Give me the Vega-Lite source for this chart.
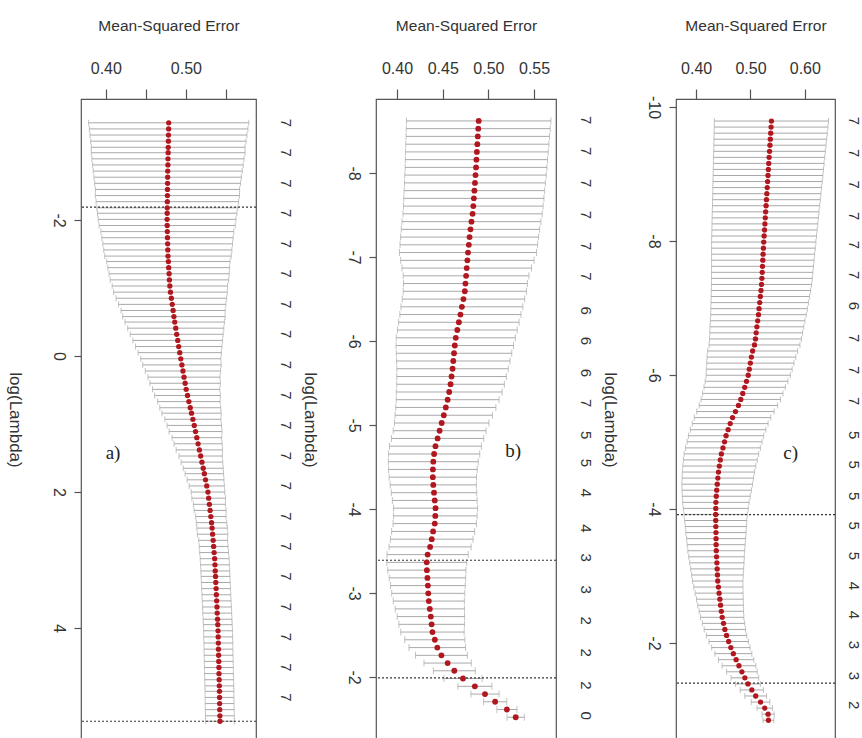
{
"$schema": "https://vega.github.io/schema/vega-lite/v6.json",
"background": "white",
"padding": {"left": 5, "top": 17, "right": 0, "bottom": 0},
"spacing": 120,
"bounds": "flush",
"config": {
  "font": "Liberation Sans",
  "view": {"stroke": "#555555", "strokeWidth": 1.2},
  "axis": {"domain": false, "grid": false, "tickColor": "#555555", "tickWidth": 1.2, "labelColor": "#333333", "titleColor": "#333333", "titleFontWeight": "normal", "labelFontSize": 16, "titleFontSize": 15.5, "labelFont": "Liberation Sans", "titleFont": "Liberation Sans", "labelFlush": false, "labelOverlap": false}
},
"datasets": {
  "a": [
{"lambda":-3.43,"mse":0.4785,"sd":0.100},{"lambda":-3.34,"mse":0.4784,"sd":0.099},{"lambda":-3.25,"mse":0.4782,"sd":0.098},{"lambda":-3.16,"mse":0.4781,"sd":0.097},{"lambda":-3.07,"mse":0.4779,"sd":0.096},{"lambda":-2.99,"mse":0.4778,"sd":0.096},{"lambda":-2.90,"mse":0.4776,"sd":0.095},{"lambda":-2.81,"mse":0.4775,"sd":0.094},{"lambda":-2.72,"mse":0.4773,"sd":0.093},{"lambda":-2.63,"mse":0.4772,"sd":0.092},
{"lambda":-2.54,"mse":0.4771,"sd":0.091},{"lambda":-2.45,"mse":0.4770,"sd":0.090},{"lambda":-2.36,"mse":0.4769,"sd":0.090},{"lambda":-2.27,"mse":0.4768,"sd":0.089},{"lambda":-2.18,"mse":0.4767,"sd":0.088},{"lambda":-2.10,"mse":0.4766,"sd":0.087},{"lambda":-2.01,"mse":0.4765,"sd":0.086},{"lambda":-1.92,"mse":0.4766,"sd":0.085},{"lambda":-1.83,"mse":0.4768,"sd":0.083},{"lambda":-1.74,"mse":0.4770,"sd":0.082},
{"lambda":-1.65,"mse":0.4772,"sd":0.081},{"lambda":-1.56,"mse":0.4774,"sd":0.080},{"lambda":-1.47,"mse":0.4776,"sd":0.079},{"lambda":-1.39,"mse":0.4781,"sd":0.077},{"lambda":-1.30,"mse":0.4785,"sd":0.076},{"lambda":-1.21,"mse":0.4790,"sd":0.075},{"lambda":-1.12,"mse":0.4794,"sd":0.074},{"lambda":-1.03,"mse":0.4799,"sd":0.072},{"lambda":-0.94,"mse":0.4807,"sd":0.071},{"lambda":-0.85,"mse":0.4818,"sd":0.069},
{"lambda":-0.76,"mse":0.4829,"sd":0.067},{"lambda":-0.67,"mse":0.4840,"sd":0.065},{"lambda":-0.58,"mse":0.4850,"sd":0.064},{"lambda":-0.50,"mse":0.4860,"sd":0.062},{"lambda":-0.41,"mse":0.4873,"sd":0.060},{"lambda":-0.32,"mse":0.4885,"sd":0.058},{"lambda":-0.23,"mse":0.4898,"sd":0.056},{"lambda":-0.14,"mse":0.4910,"sd":0.054},{"lambda":-0.05,"mse":0.4923,"sd":0.052},{"lambda":0.04,"mse":0.4936,"sd":0.050},
{"lambda":0.13,"mse":0.4950,"sd":0.049},{"lambda":0.22,"mse":0.4963,"sd":0.047},{"lambda":0.31,"mse":0.4976,"sd":0.045},{"lambda":0.40,"mse":0.4990,"sd":0.044},{"lambda":0.49,"mse":0.5003,"sd":0.042},{"lambda":0.58,"mse":0.5020,"sd":0.041},{"lambda":0.67,"mse":0.5037,"sd":0.039},{"lambda":0.76,"mse":0.5054,"sd":0.038},{"lambda":0.84,"mse":0.5070,"sd":0.037},{"lambda":0.93,"mse":0.5087,"sd":0.035},
{"lambda":1.02,"mse":0.5104,"sd":0.034},{"lambda":1.11,"mse":0.5120,"sd":0.033},{"lambda":1.20,"mse":0.5136,"sd":0.031},{"lambda":1.29,"mse":0.5152,"sd":0.030},{"lambda":1.38,"mse":0.5168,"sd":0.029},{"lambda":1.47,"mse":0.5184,"sd":0.027},{"lambda":1.56,"mse":0.5200,"sd":0.026},{"lambda":1.65,"mse":0.5216,"sd":0.025},{"lambda":1.73,"mse":0.5230,"sd":0.024},{"lambda":1.82,"mse":0.5245,"sd":0.023},
{"lambda":1.91,"mse":0.5260,"sd":0.022},{"lambda":2.00,"mse":0.5275,"sd":0.021},{"lambda":2.09,"mse":0.5284,"sd":0.021},{"lambda":2.18,"mse":0.5293,"sd":0.020},{"lambda":2.27,"mse":0.5302,"sd":0.020},{"lambda":2.36,"mse":0.5311,"sd":0.019},{"lambda":2.45,"mse":0.5320,"sd":0.019},{"lambda":2.53,"mse":0.5327,"sd":0.019},{"lambda":2.62,"mse":0.5333,"sd":0.019},{"lambda":2.71,"mse":0.5340,"sd":0.018},
{"lambda":2.80,"mse":0.5346,"sd":0.018},{"lambda":2.89,"mse":0.5352,"sd":0.018},{"lambda":2.98,"mse":0.5359,"sd":0.018},{"lambda":3.07,"mse":0.5363,"sd":0.018},{"lambda":3.16,"mse":0.5366,"sd":0.018},{"lambda":3.24,"mse":0.5370,"sd":0.018},{"lambda":3.33,"mse":0.5373,"sd":0.018},{"lambda":3.42,"mse":0.5377,"sd":0.018},{"lambda":3.51,"mse":0.5380,"sd":0.018},{"lambda":3.60,"mse":0.5384,"sd":0.018},
{"lambda":3.69,"mse":0.5388,"sd":0.018},{"lambda":3.78,"mse":0.5391,"sd":0.018},{"lambda":3.87,"mse":0.5395,"sd":0.018},{"lambda":3.95,"mse":0.5398,"sd":0.018},{"lambda":4.04,"mse":0.5401,"sd":0.018},{"lambda":4.13,"mse":0.5403,"sd":0.018},{"lambda":4.22,"mse":0.5405,"sd":0.018},{"lambda":4.31,"mse":0.5406,"sd":0.018},{"lambda":4.40,"mse":0.5408,"sd":0.018},{"lambda":4.49,"mse":0.5410,"sd":0.018},
{"lambda":4.58,"mse":0.5412,"sd":0.018},{"lambda":4.67,"mse":0.5413,"sd":0.018},{"lambda":4.76,"mse":0.5415,"sd":0.018},{"lambda":4.85,"mse":0.5417,"sd":0.018},{"lambda":4.93,"mse":0.5419,"sd":0.018},{"lambda":5.02,"mse":0.5420,"sd":0.018},{"lambda":5.11,"mse":0.5421,"sd":0.018},{"lambda":5.20,"mse":0.5422,"sd":0.018},{"lambda":5.29,"mse":0.5424,"sd":0.018},{"lambda":5.37,"mse":0.5425,"sd":0.018}
  ],
  "b": [
{"lambda":-8.620,"mse":0.4894,"sd":0.0790},{"lambda":-8.528,"mse":0.4889,"sd":0.0788},{"lambda":-8.436,"mse":0.4884,"sd":0.0785},{"lambda":-8.343,"mse":0.4879,"sd":0.0783},{"lambda":-8.251,"mse":0.4874,"sd":0.0781},{"lambda":-8.159,"mse":0.4869,"sd":0.0778},{"lambda":-8.067,"mse":0.4865,"sd":0.0776},{"lambda":-7.975,"mse":0.4859,"sd":0.0774},{"lambda":-7.882,"mse":0.4853,"sd":0.0771},{"lambda":-7.790,"mse":0.4847,"sd":0.0769},
{"lambda":-7.698,"mse":0.4841,"sd":0.0767},{"lambda":-7.606,"mse":0.4835,"sd":0.0764},{"lambda":-7.514,"mse":0.4827,"sd":0.0762},{"lambda":-7.421,"mse":0.4815,"sd":0.0760},{"lambda":-7.329,"mse":0.4804,"sd":0.0757},{"lambda":-7.237,"mse":0.4794,"sd":0.0755},{"lambda":-7.145,"mse":0.4786,"sd":0.0753},{"lambda":-7.053,"mse":0.4777,"sd":0.0750},{"lambda":-6.960,"mse":0.4770,"sd":0.0730},{"lambda":-6.868,"mse":0.4763,"sd":0.0709},
{"lambda":-6.776,"mse":0.4756,"sd":0.0688},{"lambda":-6.684,"mse":0.4749,"sd":0.0678},{"lambda":-6.592,"mse":0.4742,"sd":0.0674},{"lambda":-6.499,"mse":0.4727,"sd":0.0670},{"lambda":-6.407,"mse":0.4710,"sd":0.0667},{"lambda":-6.315,"mse":0.4694,"sd":0.0663},{"lambda":-6.223,"mse":0.4677,"sd":0.0659},{"lambda":-6.131,"mse":0.4660,"sd":0.0655},{"lambda":-6.038,"mse":0.4643,"sd":0.0652},{"lambda":-5.946,"mse":0.4632,"sd":0.0643},
{"lambda":-5.854,"mse":0.4624,"sd":0.0632},{"lambda":-5.762,"mse":0.4616,"sd":0.0621},{"lambda":-5.670,"mse":0.4608,"sd":0.0610},{"lambda":-5.577,"mse":0.4597,"sd":0.0600},{"lambda":-5.485,"mse":0.4586,"sd":0.0589},{"lambda":-5.393,"mse":0.4571,"sd":0.0579},{"lambda":-5.301,"mse":0.4554,"sd":0.0563},{"lambda":-5.209,"mse":0.4534,"sd":0.0548},{"lambda":-5.116,"mse":0.4512,"sd":0.0533},{"lambda":-5.024,"mse":0.4489,"sd":0.0517},
{"lambda":-4.932,"mse":0.4466,"sd":0.0508},{"lambda":-4.840,"mse":0.4444,"sd":0.0505},{"lambda":-4.748,"mse":0.4421,"sd":0.0503},{"lambda":-4.655,"mse":0.4406,"sd":0.0499},{"lambda":-4.563,"mse":0.4397,"sd":0.0492},{"lambda":-4.471,"mse":0.4393,"sd":0.0485},{"lambda":-4.379,"mse":0.4392,"sd":0.0478},{"lambda":-4.287,"mse":0.4397,"sd":0.0471},{"lambda":-4.194,"mse":0.4405,"sd":0.0467},{"lambda":-4.102,"mse":0.4413,"sd":0.0464},
{"lambda":-4.010,"mse":0.4422,"sd":0.0460},{"lambda":-3.918,"mse":0.4419,"sd":0.0458},{"lambda":-3.826,"mse":0.4413,"sd":0.0456},{"lambda":-3.733,"mse":0.4395,"sd":0.0454},{"lambda":-3.641,"mse":0.4380,"sd":0.0452},{"lambda":-3.549,"mse":0.4362,"sd":0.0449},{"lambda":-3.457,"mse":0.4335,"sd":0.0444},{"lambda":-3.365,"mse":0.4325,"sd":0.0437},{"lambda":-3.272,"mse":0.4327,"sd":0.0428},{"lambda":-3.180,"mse":0.4333,"sd":0.0418},
{"lambda":-3.088,"mse":0.4338,"sd":0.0409},{"lambda":-2.996,"mse":0.4342,"sd":0.0400},{"lambda":-2.904,"mse":0.4348,"sd":0.0389},{"lambda":-2.811,"mse":0.4359,"sd":0.0379},{"lambda":-2.719,"mse":0.4370,"sd":0.0369},{"lambda":-2.627,"mse":0.4379,"sd":0.0359},{"lambda":-2.535,"mse":0.4388,"sd":0.0347},{"lambda":-2.443,"mse":0.4414,"sd":0.0329},{"lambda":-2.350,"mse":0.4441,"sd":0.0310},{"lambda":-2.258,"mse":0.4486,"sd":0.0284},
{"lambda":-2.166,"mse":0.4554,"sd":0.0259},{"lambda":-2.074,"mse":0.4627,"sd":0.0229},{"lambda":-1.982,"mse":0.4722,"sd":0.0208},{"lambda":-1.889,"mse":0.4852,"sd":0.0186},{"lambda":-1.797,"mse":0.4963,"sd":0.0154},{"lambda":-1.705,"mse":0.5074,"sd":0.0127},{"lambda":-1.613,"mse":0.5203,"sd":0.0110},{"lambda":-1.521,"mse":0.5299,"sd":0.0095}
  ],
  "c": [
{"lambda":-9.790,"mse":0.5386,"sd":0.1050},{"lambda":-9.700,"mse":0.5379,"sd":0.1045},{"lambda":-9.609,"mse":0.5372,"sd":0.1041},{"lambda":-9.519,"mse":0.5365,"sd":0.1036},{"lambda":-9.429,"mse":0.5358,"sd":0.1032},{"lambda":-9.338,"mse":0.5351,"sd":0.1027},{"lambda":-9.248,"mse":0.5343,"sd":0.1023},{"lambda":-9.158,"mse":0.5336,"sd":0.1018},{"lambda":-9.068,"mse":0.5329,"sd":0.1014},{"lambda":-8.977,"mse":0.5322,"sd":0.1009},
{"lambda":-8.887,"mse":0.5315,"sd":0.1005},{"lambda":-8.797,"mse":0.5308,"sd":0.1000},{"lambda":-8.706,"mse":0.5301,"sd":0.0995},{"lambda":-8.616,"mse":0.5294,"sd":0.0991},{"lambda":-8.526,"mse":0.5287,"sd":0.0986},{"lambda":-8.435,"mse":0.5279,"sd":0.0982},{"lambda":-8.345,"mse":0.5272,"sd":0.0977},{"lambda":-8.255,"mse":0.5265,"sd":0.0973},{"lambda":-8.164,"mse":0.5258,"sd":0.0968},{"lambda":-8.074,"mse":0.5251,"sd":0.0964},
{"lambda":-7.984,"mse":0.5244,"sd":0.0959},{"lambda":-7.893,"mse":0.5238,"sd":0.0954},{"lambda":-7.803,"mse":0.5232,"sd":0.0948},{"lambda":-7.713,"mse":0.5227,"sd":0.0943},{"lambda":-7.622,"mse":0.5221,"sd":0.0937},{"lambda":-7.532,"mse":0.5216,"sd":0.0932},{"lambda":-7.442,"mse":0.5210,"sd":0.0927},{"lambda":-7.351,"mse":0.5204,"sd":0.0921},{"lambda":-7.261,"mse":0.5194,"sd":0.0913},{"lambda":-7.171,"mse":0.5182,"sd":0.0905},
{"lambda":-7.080,"mse":0.5170,"sd":0.0896},{"lambda":-6.990,"mse":0.5158,"sd":0.0888},{"lambda":-6.900,"mse":0.5147,"sd":0.0879},{"lambda":-6.809,"mse":0.5133,"sd":0.0870},{"lambda":-6.719,"mse":0.5118,"sd":0.0862},{"lambda":-6.629,"mse":0.5105,"sd":0.0853},{"lambda":-6.538,"mse":0.5092,"sd":0.0845},{"lambda":-6.448,"mse":0.5074,"sd":0.0836},{"lambda":-6.358,"mse":0.5040,"sd":0.0827},{"lambda":-6.267,"mse":0.5017,"sd":0.0816},
{"lambda":-6.177,"mse":0.4998,"sd":0.0802},{"lambda":-6.087,"mse":0.4978,"sd":0.0789},{"lambda":-5.996,"mse":0.4959,"sd":0.0775},{"lambda":-5.906,"mse":0.4927,"sd":0.0761},{"lambda":-5.816,"mse":0.4894,"sd":0.0749},{"lambda":-5.725,"mse":0.4858,"sd":0.0740},{"lambda":-5.635,"mse":0.4822,"sd":0.0731},{"lambda":-5.545,"mse":0.4779,"sd":0.0722},{"lambda":-5.454,"mse":0.4724,"sd":0.0712},{"lambda":-5.364,"mse":0.4670,"sd":0.0703},
{"lambda":-5.274,"mse":0.4627,"sd":0.0697},{"lambda":-5.183,"mse":0.4589,"sd":0.0695},{"lambda":-5.093,"mse":0.4551,"sd":0.0692},{"lambda":-5.003,"mse":0.4523,"sd":0.0690},{"lambda":-4.912,"mse":0.4494,"sd":0.0688},{"lambda":-4.822,"mse":0.4465,"sd":0.0686},{"lambda":-4.732,"mse":0.4445,"sd":0.0679},{"lambda":-4.641,"mse":0.4427,"sd":0.0671},{"lambda":-4.551,"mse":0.4411,"sd":0.0664},{"lambda":-4.461,"mse":0.4400,"sd":0.0657},
{"lambda":-4.370,"mse":0.4389,"sd":0.0650},{"lambda":-4.280,"mse":0.4379,"sd":0.0638},{"lambda":-4.190,"mse":0.4371,"sd":0.0624},{"lambda":-4.099,"mse":0.4364,"sd":0.0611},{"lambda":-4.009,"mse":0.4362,"sd":0.0597},{"lambda":-3.919,"mse":0.4360,"sd":0.0583},{"lambda":-3.828,"mse":0.4361,"sd":0.0572},{"lambda":-3.738,"mse":0.4363,"sd":0.0562},{"lambda":-3.648,"mse":0.4365,"sd":0.0553},{"lambda":-3.557,"mse":0.4367,"sd":0.0543},
{"lambda":-3.467,"mse":0.4368,"sd":0.0533},{"lambda":-3.377,"mse":0.4371,"sd":0.0523},{"lambda":-3.286,"mse":0.4376,"sd":0.0511},{"lambda":-3.196,"mse":0.4382,"sd":0.0499},{"lambda":-3.106,"mse":0.4387,"sd":0.0487},{"lambda":-3.015,"mse":0.4393,"sd":0.0475},{"lambda":-2.925,"mse":0.4398,"sd":0.0463},{"lambda":-2.835,"mse":0.4410,"sd":0.0452},{"lambda":-2.744,"mse":0.4423,"sd":0.0441},{"lambda":-2.654,"mse":0.4437,"sd":0.0430},
{"lambda":-2.564,"mse":0.4450,"sd":0.0420},{"lambda":-2.473,"mse":0.4464,"sd":0.0409},{"lambda":-2.383,"mse":0.4480,"sd":0.0398},{"lambda":-2.293,"mse":0.4504,"sd":0.0389},{"lambda":-2.202,"mse":0.4529,"sd":0.0380},{"lambda":-2.112,"mse":0.4560,"sd":0.0371},{"lambda":-2.022,"mse":0.4599,"sd":0.0362},{"lambda":-1.931,"mse":0.4639,"sd":0.0353},{"lambda":-1.841,"mse":0.4685,"sd":0.0340},{"lambda":-1.751,"mse":0.4736,"sd":0.0325},
{"lambda":-1.660,"mse":0.4788,"sd":0.0310},{"lambda":-1.570,"mse":0.4842,"sd":0.0282},{"lambda":-1.480,"mse":0.4897,"sd":0.0255},{"lambda":-1.389,"mse":0.4954,"sd":0.0228},{"lambda":-1.299,"mse":0.5025,"sd":0.0214},{"lambda":-1.209,"mse":0.5096,"sd":0.0200},{"lambda":-1.118,"mse":0.5185,"sd":0.0171},{"lambda":-1.028,"mse":0.5262,"sd":0.0142},{"lambda":-0.938,"mse":0.5324,"sd":0.0113},{"lambda":-0.847,"mse":0.5330,"sd":0.0100}
  ],
  "a_df": [
{"lambda":-3.43,"df":"7"},{"lambda":-2.99,"df":"7"},{"lambda":-2.54,"df":"7"},{"lambda":-2.10,"df":"7"},{"lambda":-1.65,"df":"7"},{"lambda":-1.21,"df":"7"},{"lambda":-0.76,"df":"7"},{"lambda":-0.32,"df":"7"},{"lambda":0.13,"df":"7"},{"lambda":0.58,"df":"7"},
{"lambda":1.02,"df":"7"},{"lambda":1.47,"df":"7"},{"lambda":1.91,"df":"7"},{"lambda":2.36,"df":"7"},{"lambda":2.80,"df":"7"},{"lambda":3.24,"df":"7"},{"lambda":3.69,"df":"7"},{"lambda":4.13,"df":"7"},{"lambda":4.58,"df":"7"},{"lambda":5.02,"df":"7"}
  ],
  "b_df": [
{"lambda":-8.63,"df":"7"},{"lambda":-8.26,"df":"7"},{"lambda":-7.88,"df":"7"},{"lambda":-7.50,"df":"7"},{"lambda":-7.13,"df":"7"},{"lambda":-6.77,"df":"7"},{"lambda":-6.36,"df":"6"},{"lambda":-6.00,"df":"6"},{"lambda":-5.62,"df":"6"},{"lambda":-5.26,"df":"7"},
{"lambda":-4.88,"df":"5"},{"lambda":-4.55,"df":"5"},{"lambda":-4.19,"df":"4"},{"lambda":-3.77,"df":"4"},{"lambda":-3.42,"df":"3"},{"lambda":-3.04,"df":"3"},{"lambda":-2.67,"df":"2"},{"lambda":-2.29,"df":"2"},{"lambda":-1.90,"df":"2"},{"lambda":-1.54,"df":"0"}
  ],
  "c_df": [
{"lambda":-9.79,"df":"7"},{"lambda":-9.31,"df":"7"},{"lambda":-8.84,"df":"7"},{"lambda":-8.37,"df":"7"},{"lambda":-7.94,"df":"7"},{"lambda":-7.49,"df":"7"},{"lambda":-7.03,"df":"6"},{"lambda":-6.55,"df":"7"},{"lambda":-6.07,"df":"7"},{"lambda":-5.61,"df":"7"},
{"lambda":-5.10,"df":"5"},{"lambda":-4.66,"df":"5"},{"lambda":-4.19,"df":"5"},{"lambda":-3.75,"df":"5"},{"lambda":-3.30,"df":"5"},{"lambda":-2.85,"df":"4"},{"lambda":-2.42,"df":"4"},{"lambda":-1.97,"df":"3"},{"lambda":-1.51,"df":"3"},{"lambda":-1.07,"df":"2"}
  ],
  "a_cut": [{"lambda":-2.19},{"lambda":5.37}],
  "b_cut": [{"lambda":-3.39},{"lambda":-1.99}],
  "c_cut": [{"lambda":-3.915},{"lambda":-1.40}],
  "a_tag": [{"tag":"a)"}],
  "b_tag": [{"tag":"b)"}],
  "c_tag": [{"tag":"c)"}]
},
"hconcat": [
 {
  "width": 175, "height": 641,
  "layer": [
   {"data": {"name": "a"},
    "mark": {"type": "errorbar", "ticks": {"size": 6}, "color": "#A9A9A9", "thickness": 1},
    "encoding": {
     "y": {"field": "lambda", "type": "quantitative", "scale": {"domain": [-3.78, 5.646], "reverse": true, "nice": false, "zero": false},
           "axis": {"orient": "left", "title": "log(Lambda)", "values": [-2, 0, 2, 4], "labelExpr": "'' + datum.value", "labelAngle": 90, "titleAngle": 90, "tickSize": 7, "labelPadding": 8, "titlePadding": 45, "labelFontSize": 16, "titleFontSize": 17}},
     "x": {"field": "mse", "type": "quantitative", "scale": {"domain": [0.369, 0.5875], "nice": false, "zero": false},
           "axis": {"orient": "top", "title": "Mean-Squared Error", "values": [0.4, 0.45, 0.5, 0.55], "labelExpr": "round(datum.value*100) % 10 == 0 ? format(datum.value, '.2f') : ''", "tickSize": 10, "labelPadding": 13, "titlePadding": 27}},
     "xError": {"field": "sd"}
    }},
   {"data": {"name": "a_cut"},
    "mark": {"type": "rule", "strokeDash": [2, 2], "color": "#333333", "strokeWidth": 1.2},
    "encoding": {"y": {"field": "lambda", "type": "quantitative", "scale": {"domain": [-3.78, 5.646], "reverse": true, "nice": false, "zero": false}}}},
   {"data": {"name": "a"},
    "mark": {"type": "circle", "size": 28, "color": "#B0171F", "opacity": 1},
    "encoding": {
     "y": {"field": "lambda", "type": "quantitative", "scale": {"domain": [-3.78, 5.646], "reverse": true, "nice": false, "zero": false}},
     "x": {"field": "mse", "type": "quantitative", "scale": {"domain": [0.369, 0.5875], "nice": false, "zero": false}}
    }},
   {"data": {"name": "a_df"},
    "mark": {"type": "text", "angle": 90, "fontSize": 15, "color": "#333333", "align": "center", "baseline": "middle"},
    "encoding": {
     "y": {"field": "lambda", "type": "quantitative", "scale": {"domain": [-3.78, 5.646], "reverse": true, "nice": false, "zero": false}},
     "x": {"datum": 0.625, "type": "quantitative", "scale": {"domain": [0.369, 0.5875], "nice": false, "zero": false}},
     "text": {"field": "df", "type": "nominal"}
    }},
   {"data": {"name": "a_tag"},
    "mark": {"type": "text", "font": "Liberation Serif", "fontSize": 19, "color": "#222222", "align": "center", "baseline": "middle"},
    "encoding": {
     "y": {"datum": 1.43, "type": "quantitative", "scale": {"domain": [-3.78, 5.646], "reverse": true, "nice": false, "zero": false}},
     "x": {"datum": 0.409, "type": "quantitative", "scale": {"domain": [0.369, 0.5875], "nice": false, "zero": false}},
     "text": {"field": "tag", "type": "nominal"}
    }}
  ]
 },
 {
  "width": 180, "height": 641,
  "layer": [
   {"data": {"name": "b"},
    "mark": {"type": "errorbar", "ticks": {"size": 7}, "color": "#A9A9A9", "thickness": 1},
    "encoding": {
     "y": {"field": "lambda", "type": "quantitative", "scale": {"domain": [-8.881, -1.25], "reverse": true, "nice": false, "zero": false},
           "axis": {"orient": "left", "title": "log(Lambda)", "values": [-8, -7, -6, -5, -4, -3, -2], "labelExpr": "'' + datum.value", "labelAngle": 90, "titleAngle": 90, "tickSize": 7, "labelPadding": 8, "titlePadding": 45, "labelFontSize": 16, "titleFontSize": 17}},
     "x": {"field": "mse", "type": "quantitative", "scale": {"domain": [0.377, 0.574], "nice": false, "zero": false},
           "axis": {"orient": "top", "title": "Mean-Squared Error", "values": [0.4, 0.45, 0.5, 0.55], "labelExpr": "format(datum.value, '.2f')", "tickSize": 10, "labelPadding": 13, "titlePadding": 27}},
     "xError": {"field": "sd"}
    }},
   {"data": {"name": "b_cut"},
    "mark": {"type": "rule", "strokeDash": [2, 2], "color": "#333333", "strokeWidth": 1.2},
    "encoding": {"y": {"field": "lambda", "type": "quantitative", "scale": {"domain": [-8.881, -1.25], "reverse": true, "nice": false, "zero": false}}}},
   {"data": {"name": "b"},
    "mark": {"type": "circle", "size": 34, "color": "#B0171F", "opacity": 1},
    "encoding": {
     "y": {"field": "lambda", "type": "quantitative", "scale": {"domain": [-8.881, -1.25], "reverse": true, "nice": false, "zero": false}},
     "x": {"field": "mse", "type": "quantitative", "scale": {"domain": [0.377, 0.574], "nice": false, "zero": false}}
    }},
   {"data": {"name": "b_df"},
    "mark": {"type": "text", "angle": 90, "fontSize": 15, "color": "#333333", "align": "center", "baseline": "middle"},
    "encoding": {
     "y": {"field": "lambda", "type": "quantitative", "scale": {"domain": [-8.881, -1.25], "reverse": true, "nice": false, "zero": false}},
     "x": {"datum": 0.607, "type": "quantitative", "scale": {"domain": [0.377, 0.574], "nice": false, "zero": false}},
     "text": {"field": "df", "type": "nominal"}
    }},
   {"data": {"name": "b_tag"},
    "mark": {"type": "text", "font": "Liberation Serif", "fontSize": 19, "color": "#222222", "align": "center", "baseline": "middle"},
    "encoding": {
     "y": {"datum": -4.69, "type": "quantitative", "scale": {"domain": [-8.881, -1.25], "reverse": true, "nice": false, "zero": false}},
     "x": {"datum": 0.527, "type": "quantitative", "scale": {"domain": [0.377, 0.574], "nice": false, "zero": false}},
     "text": {"field": "tag", "type": "nominal"}
    }}
  ]
 },
 {
  "width": 159, "height": 641,
  "layer": [
   {"data": {"name": "c"},
    "mark": {"type": "errorbar", "ticks": {"size": 6}, "color": "#A9A9A9", "thickness": 1},
    "encoding": {
     "y": {"field": "lambda", "type": "quantitative", "scale": {"domain": [-10.119, -0.552], "reverse": true, "nice": false, "zero": false},
           "axis": {"orient": "left", "title": "log(Lambda)", "values": [-10, -8, -6, -4, -2], "labelExpr": "'' + datum.value", "labelAngle": 90, "titleAngle": 90, "tickSize": 7, "labelPadding": 8, "titlePadding": 45, "labelFontSize": 16, "titleFontSize": 17}},
     "x": {"field": "mse", "type": "quantitative", "scale": {"domain": [0.363, 0.6555], "nice": false, "zero": false},
           "axis": {"orient": "top", "title": "Mean-Squared Error", "values": [0.4, 0.45, 0.5, 0.55, 0.6, 0.65], "labelExpr": "round(datum.value*100) % 10 == 0 ? format(datum.value, '.2f') : ''", "tickSize": 10, "labelPadding": 13, "titlePadding": 27}},
     "xError": {"field": "sd"}
    }},
   {"data": {"name": "c_cut"},
    "mark": {"type": "rule", "strokeDash": [2, 2], "color": "#333333", "strokeWidth": 1.2},
    "encoding": {"y": {"field": "lambda", "type": "quantitative", "scale": {"domain": [-10.119, -0.552], "reverse": true, "nice": false, "zero": false}}}},
   {"data": {"name": "c"},
    "mark": {"type": "circle", "size": 28, "color": "#B0171F", "opacity": 1},
    "encoding": {
     "y": {"field": "lambda", "type": "quantitative", "scale": {"domain": [-10.119, -0.552], "reverse": true, "nice": false, "zero": false}},
     "x": {"field": "mse", "type": "quantitative", "scale": {"domain": [0.363, 0.6555], "nice": false, "zero": false}}
    }},
   {"data": {"name": "c_df"},
    "mark": {"type": "text", "angle": 90, "fontSize": 15, "color": "#333333", "align": "center", "baseline": "middle"},
    "encoding": {
     "y": {"field": "lambda", "type": "quantitative", "scale": {"domain": [-10.119, -0.552], "reverse": true, "nice": false, "zero": false}},
     "x": {"datum": 0.69, "type": "quantitative", "scale": {"domain": [0.363, 0.6555], "nice": false, "zero": false}},
     "text": {"field": "df", "type": "nominal"}
    }},
   {"data": {"name": "c_tag"},
    "mark": {"type": "text", "font": "Liberation Serif", "fontSize": 19, "color": "#222222", "align": "center", "baseline": "middle"},
    "encoding": {
     "y": {"datum": -4.84, "type": "quantitative", "scale": {"domain": [-10.119, -0.552], "reverse": true, "nice": false, "zero": false}},
     "x": {"datum": 0.574, "type": "quantitative", "scale": {"domain": [0.363, 0.6555], "nice": false, "zero": false}},
     "text": {"field": "tag", "type": "nominal"}
    }}
  ]
 }
]
}
